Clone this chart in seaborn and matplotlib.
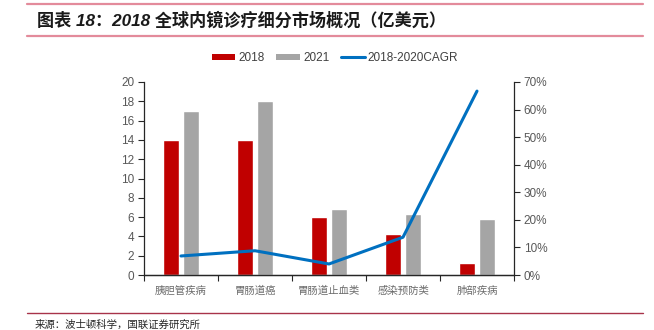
import numpy as np
import pandas as pd
import matplotlib
matplotlib.use("Agg")
import matplotlib.pyplot as plt
from matplotlib.patches import Patch
from matplotlib.lines import Line2D
from matplotlib.ticker import MultipleLocator, PercentFormatter
import seaborn as sns

categories = ["胰胆管疾病", "胃肠道癌", "胃肠道止血类", "感染预防类", "肺部疾病"]
market_2018 = [14.0, 14.0, 6.0, 4.2, 1.2]
market_2021 = [17.0, 18.0, 6.8, 6.3, 5.8]
cagr_pct = [6.9, 8.8, 4.0, 13.7, 66.7]
series_names = ["2018", "2021", "2018-2020CAGR"]

title_text = "图表 18：2018 全球内镜诊疗细分市场概况（亿美元）"
source_text = "来源：波士顿科学，国联证券研究所"

RED = "#C00000"
GRAY = "#A5A5A5"
BLUE = "#0070C0"
TXT = "#595959"

sns.set_theme(style="white")
plt.rcParams["font.family"] = ["Liberation Sans", "Noto Sans CJK SC", "DejaVu Sans"]

df = pd.DataFrame({
    "category": categories * 2,
    "year": [series_names[0]] * len(categories) + [series_names[1]] * len(categories),
    "value": market_2018 + market_2021,
})

fig = plt.figure(figsize=(6.54, 3.30), dpi=100)
ax = fig.add_axes([144 / 654, 1 - 275 / 330, 370 / 654, 193 / 330])

sns.barplot(data=df, x="category", y="value", hue="year", order=categories,
            hue_order=series_names[:2], palette=[RED, GRAY], width=0.54, gap=0.17,
            ax=ax, legend=False, saturation=1)

ax.set_ylim(0, 20)
ax.set_xlim(-0.5, len(categories) - 0.5)
ax.yaxis.set_major_locator(MultipleLocator(2))
ax.set_xlabel("")
ax.set_ylabel("")

ax2 = ax.twinx()
sns.lineplot(x=np.arange(len(categories)), y=cagr_pct, ax=ax2, color=BLUE,
             linewidth=2.2, legend=False)
ax2.set_ylim(0, 70)
ax2.yaxis.set_major_locator(MultipleLocator(10))
ax2.yaxis.set_major_formatter(PercentFormatter(decimals=0))
ax2.set_ylabel("")

for a in (ax, ax2):
    a.spines["top"].set_visible(False)
    for s in ("left", "right", "bottom"):
        a.spines[s].set_color("#262626")
        a.spines[s].set_linewidth(0.9)
    a.tick_params(axis="y", colors="#262626", labelcolor=TXT, labelsize=8.5,
                  length=4, width=0.8, direction="out", pad=3)

ax.spines["right"].set_visible(False)
ax2.spines["left"].set_visible(False)

# x ticks sit on the category boundaries; names are centred underneath
ax.set_xticks(np.arange(len(categories) + 1) - 0.5)
ax.set_xticklabels([])
ax.tick_params(axis="x", length=4, width=0.8, direction="out", colors="#262626", bottom=True)
for i, name in enumerate(categories):
    ax.text(i, -1.1, name, ha="center", va="top", fontsize=7.5, color="#6a6a6a",
            family=["Noto Sans CJK SC"], fontweight="light", transform=ax.transData)

# legend
handles = [
    Patch(facecolor=RED, edgecolor="none"),
    Patch(facecolor=GRAY, edgecolor="none"),
    Line2D([0], [0], color=BLUE, linewidth=2.2),
]
fig.legend(handles, series_names, loc="center", bbox_to_anchor=(335 / 654, 1 - 58 / 330),
           ncol=3, frameon=False, fontsize=8.5, labelcolor="#404040",
           handlelength=2.0, handleheight=0.45, handletextpad=0.25, columnspacing=1.0)

# header and footer rules
for yy, col, lw in ((4, "#E38B9B", 1.6), (36, "#E38B9B", 1.6), (313, "#A8334A", 1.0)):
    fig.add_artist(Line2D([27 / 654, 643 / 654], [1 - yy / 330] * 2, color=col,
                          linewidth=lw, transform=fig.transFigure))

fig.text(37 / 654, 1 - 20 / 330, title_text, ha="left", va="center", fontsize=12.3,
         fontweight="bold", fontstyle="italic", color="#1a1a1a")
fig.text(35 / 654, 1 - 325 / 330, source_text, ha="left", va="center", fontsize=7.5,
         color="#262626", family=["Noto Sans CJK SC"])

fig.savefig("out.png", dpi=100)
